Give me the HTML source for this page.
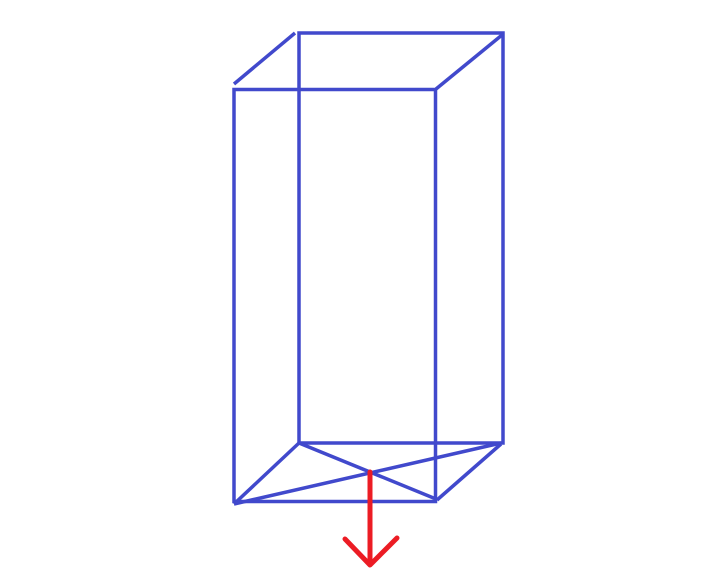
<!DOCTYPE html>
<html><head><meta charset="utf-8"><style>html,body{margin:0;padding:0;background:#fff}svg{display:block}</style></head>
<body>
<svg width="702" height="584" viewBox="0 0 702 584">
<g stroke="#4149cc" stroke-width="3.5" fill="none" stroke-linecap="butt">
<rect x="299" y="33" width="204" height="410"/>
<rect x="234" y="89.5" width="201.5" height="412"/>
<line x1="234" y1="84" x2="295" y2="33"/>
<line x1="436" y1="89" x2="502" y2="35"/>
<line x1="437" y1="500" x2="501" y2="444"/>
<line x1="234" y1="504" x2="299" y2="443"/>
<line x1="234" y1="504" x2="501" y2="443"/>
<line x1="299" y1="443" x2="436" y2="499"/>
</g>
<g stroke="#ec1c24" stroke-width="5" fill="none" stroke-linecap="round" stroke-linejoin="round">
<line x1="370" y1="472" x2="370" y2="564"/>
<polyline points="345,539 370,565 397,538"/>
</g>
</svg>
</body></html>
